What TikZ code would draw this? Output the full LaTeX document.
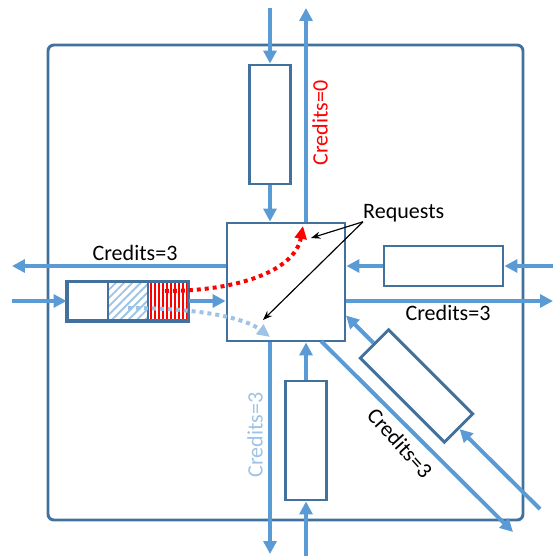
\documentclass[tikz,border=0pt]{standalone}
\usepackage{fontspec}
\setmainfont{Carlito}
\usepackage{tikz}
\usetikzlibrary{positioning, arrows.meta, patterns.meta, calc}
\definecolor{linkblue}{HTML}{5B9BD5}
\definecolor{boxblue}{HTML}{41719C}
\definecolor{paleblue}{HTML}{9DC3E6}

\begin{document}
\begin{tikzpicture}[x=0.03cm, y=-0.03cm, font=\fontsize{18.8}{22}\selectfont, >=Triangle]

\tikzset{
  link/.style={-{Triangle[length=11pt, width=11pt]}, line width=3.4pt, draw=linkblue},
  bufbox/.style={draw=boxblue, line width=2.5pt, fill=white, inner sep=0pt},
  vbuf/.style={bufbox, minimum width=1.23cm, minimum height=3.57cm},
  hbuf/.style={bufbox, minimum width=3.57cm, minimum height=1.2cm},
  cell/.style={bufbox, minimum width=1.2cm, minimum height=1.14cm},
  reqdot/.style={line width=3.4pt, dash pattern=on 3.4pt off 3.4pt,
                 -{Triangle[length=11pt, width=10pt]}},
  pointer/.style={-{Stealth[length=8pt, width=6pt]}, line width=1pt}
}

\useasboundingbox (0,0) rectangle (553,556);

% tile outline
\draw[boxblue, line width=2.5pt, rounded corners=5pt] (48,45) rectangle (523,520);

% router and input buffers
\node[bufbox, minimum size=3.54cm] (router)  at (286,282)   {};
\node[vbuf]                        (topbuf)  at (270,124.5) {};
\node[vbuf]                        (botbuf)  at (306,440.5) {};
\node[hbuf]                        (rightbuf) at (443.5,266) {};
\node[hbuf, rotate=-45]            (diagbuf) at (416.5,386) {};
\node[cell]                        (cella)   at (88,301)  {};
\node[cell, pattern={Lines[angle=45, distance=5pt, line width=1.6pt]},
      pattern color=paleblue]      (cellb)   at (128,301) {};
\node[cell, pattern={Lines[angle=90, distance=3.4pt, line width=1.7pt]},
      pattern color=red]           (cellc)   at (168,301) {};
\draw[boxblue, line width=2.5pt] (cella.south west) rectangle (cellc.north east);

% link ends
\coordinate (topin)     at (270,8);
\coordinate (topout)    at (306,8);
\coordinate (botin)     at (306,556);
\coordinate (botout)    at (270,554);
\coordinate (leftin)    at (12,301);
\coordinate (leftout)   at (12,266);
\coordinate (rightin)   at (553,266);
\coordinate (rightout)  at (553,301);
\coordinate (diagin)    at (540,509);
\coordinate (diagtip)   at (346,315.5);
\coordinate (diagstart) at (321,341);
\coordinate (diagout)   at (513,532);

\draw[link] (topin) -- (topbuf);
\draw[link] (topbuf) -- (topbuf |- router.north);
\draw[link] (router.north -| topout) -- (topout);
\draw[link] (botin) -- (botbuf);
\draw[link] (botbuf) -- (botbuf |- router.south);
\draw[link] (router.south -| botout) -- (botout);
\draw[link] (rightin) -- (rightbuf);
\draw[link] (rightbuf) -- (rightbuf -| router.east);
\draw[link] (router.east |- rightout) -- (rightout);
\draw[link] (leftin) -- (cella);
\draw[link] (cellc) -- (cellc -| router.west);
\draw[link] (router.west |- leftout) -- (leftout);
\draw[link] (diagin) -- (diagbuf.east);
\draw[link] (diagbuf.west) -- (diagtip);
\draw[link] (diagstart) -- (diagout);

% credit labels
\node[text=red, rotate=90]      (credn) at (320,123) {Credits=0};
\node[text=paleblue, rotate=90] (creds) at (255,435) {Credits=3};
\node                           (credw) at (135,253) {Credits=3};
\node                           (crede) at (448,313) {Credits=3};
\node[rotate=-48]               (credd) at (400,443) {Credits=3};

% requests
\coordinate (redfrom)  at (165,291);
\coordinate (redto)    at (303,226);
\coordinate (bluefrom) at (128,308);
\coordinate (blueto)   at (270,337);
\draw[reqdot, red] (redfrom) .. controls (240,291) and (295,270) .. (redto);
\draw[reqdot, paleblue] (bluefrom) .. controls (200,308) and (245,318) .. (blueto);

\node[anchor=base west, inner sep=0pt] (req) at (363,218) {Requests};
\coordinate (reqa) at (311,238);
\coordinate (reqb) at (263,320);
\draw[pointer] (req.south west) -- (reqa);
\draw[pointer] (req.south west) -- (reqb);

\end{tikzpicture}
\end{document}
